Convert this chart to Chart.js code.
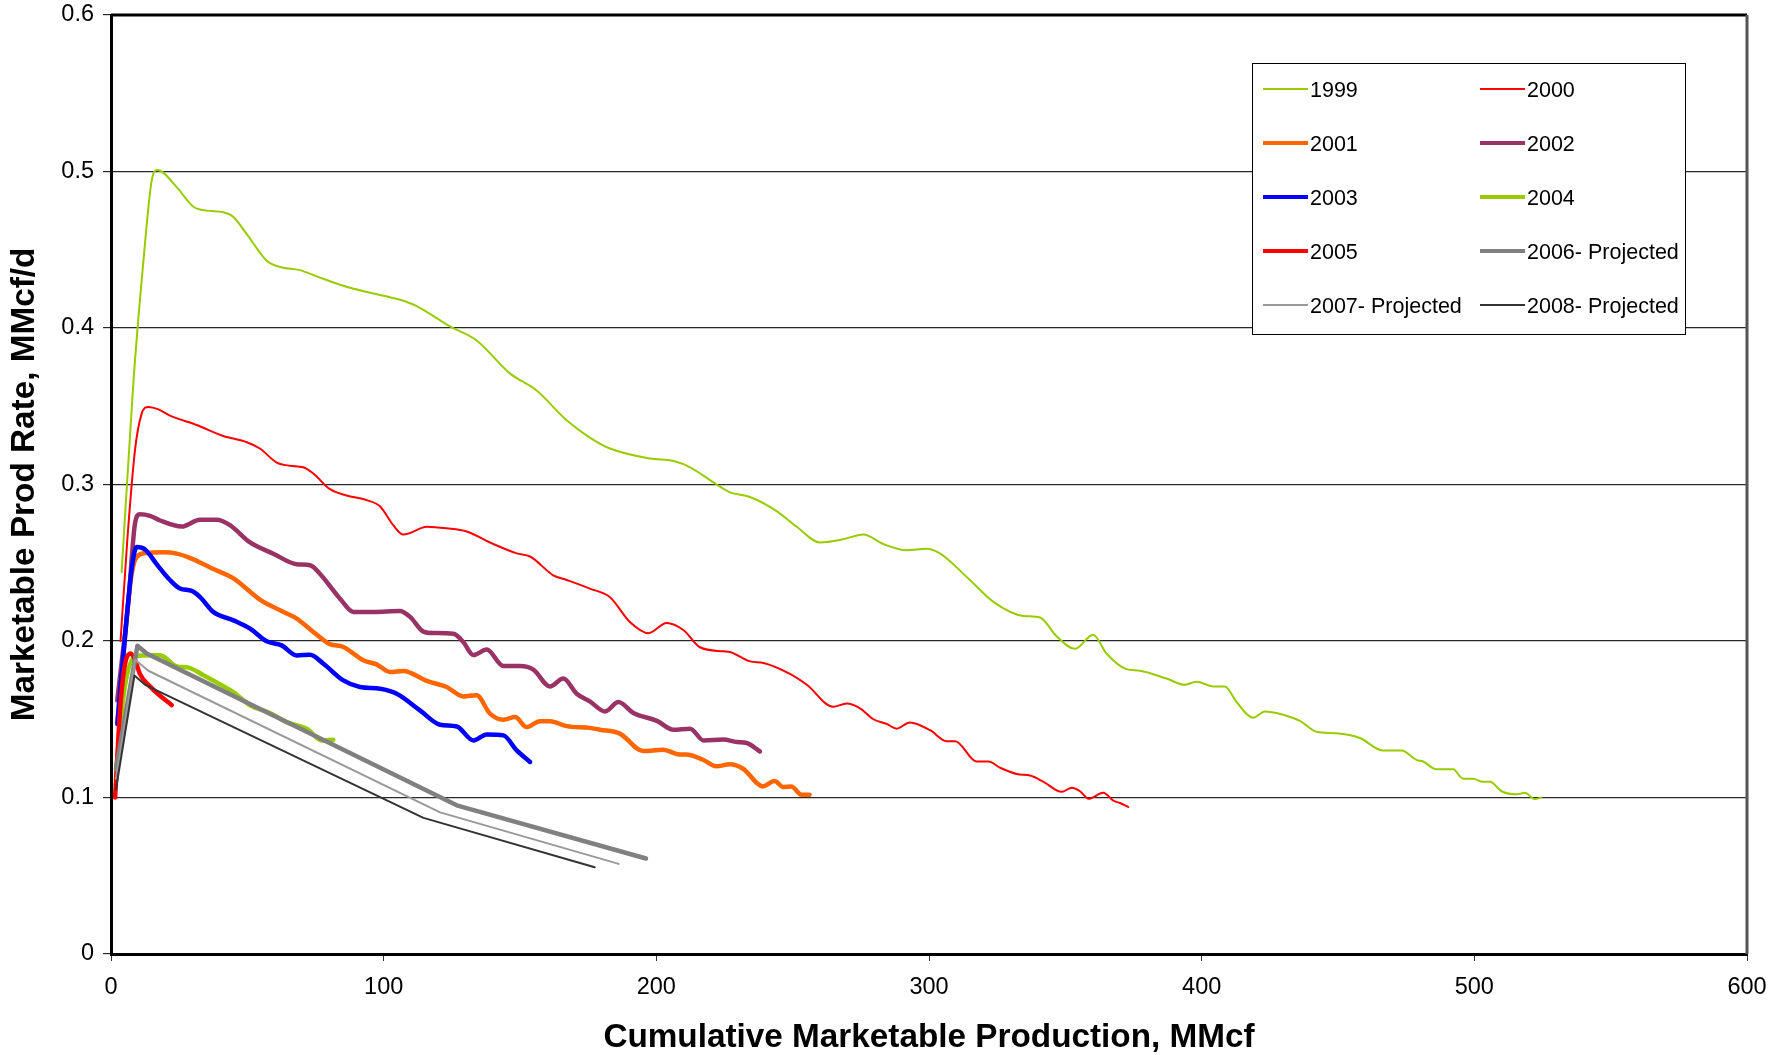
<!DOCTYPE html>
<html>
<head>
<meta charset="utf-8">
<title>Marketable Prod Rate vs Cumulative Marketable Production</title>
<script src="https://cdn.jsdelivr.net/npm/chart.js@4.4.1/dist/chart.umd.min.js"></script>
<style>
  html, body { margin: 0; padding: 0; background: #fff; }
  #wrap { width: 1789px; height: 1055px; }
</style>
</head>
<body>
<div id="wrap"><canvas id="prodChart" width="1789" height="1055"></canvas></div>
<script>
// Cumulative production (MMcf) vs marketable rate (MMcf/d).
var seriesNames = ["1999", "2000", "2001", "2002", "2003", "2004", "2005",
  "2006- Projected", "2007- Projected", "2008- Projected"];

var s1999 = [[3.9,0.244],[8.2,0.365],[11.9,0.443],[14.9,0.494],[17,0.501],[24.1,0.490],[30.2,0.4775],
  [35.1,0.475],[41.2,0.474],[44.9,0.471],[49.8,0.460],[57.1,0.443],[62,0.439],[69.3,0.437],[75.4,0.433],
  [85.2,0.427],[93.8,0.423],[106,0.418],[112.1,0.414],[124.3,0.401],[134.1,0.392],[146.3,0.371],
  [156.1,0.360],[167.1,0.341],[175.6,0.330],[183,0.323],[197.7,0.3166],[206.3,0.315],[212.4,0.311],
  [222.1,0.300],[227,0.295],[234.3,0.292],[244.1,0.283],[251.5,0.273],[260,0.263],[268.5,0.265],
  [275.9,0.268],[283.2,0.262],[291.8,0.258],[299.1,0.259],[304,0.256],[315,0.239],[323.6,0.225],
  [334.6,0.216],[340.7,0.215],[346.8,0.203],[353.5,0.195],[360.2,0.204],[365.1,0.192],[372.4,0.182],
  [377.3,0.181],[387.1,0.176],[393.8,0.172],[398.1,0.174],[404.2,0.171],[408.5,0.171],[412.8,0.161],
  [418.9,0.151],[423.2,0.155],[427.4,0.154],[436,0.149],[442.1,0.142],[449.4,0.141],[458,0.138],
  [466.5,0.130],[473.3,0.130],[478.8,0.124],[481.2,0.123],[486.1,0.118],[492.2,0.118],[495.9,0.112],
  [499.5,0.112],[503.2,0.110],[505.7,0.110],[510,0.104],[515.5,0.102],[518.5,0.103],[522.2,0.099],
  [524.6,0.100]];

var s2000 = [[3.5,0.200],[6,0.265],[8.8,0.322],[11.2,0.345],[13.7,0.3496],[17.4,0.348],[21.6,0.344],
  [31.4,0.338],[41.2,0.331],[49.8,0.327],[54.6,0.323],[60.8,0.314],[65.6,0.312],[70.5,0.311],[74.2,0.307],
  [80.3,0.297],[86.4,0.293],[93.8,0.290],[98.7,0.286],[103.5,0.274],[107.2,0.268],[109.7,0.269],
  [115.8,0.273],[123.1,0.272],[130.4,0.270],[140.2,0.262],[148.8,0.256],[153.7,0.254],[162.2,0.242],
  [167.1,0.239],[175.6,0.2335],[183,0.228],[190.4,0.212],[197.1,0.205],[203.8,0.2115],[209.9,0.207],
  [216,0.196],[224.6,0.1934],[227,0.193],[234.4,0.187],[239.3,0.186],[249,0.179],[255.2,0.172],
  [264.9,0.158],[269.8,0.160],[274.7,0.157],[279.6,0.150],[284.5,0.147],[288.1,0.144],[293,0.148],
  [300.4,0.143],[306.5,0.136],[309.6,0.136],[317.5,0.123],[321.8,0.123],[326.1,0.119],[332.2,0.115],
  [337.1,0.114],[342,0.110],[348.7,0.1036],[352.4,0.1063],[355.4,0.104],[358.5,0.0992],[363.9,0.103],
  [367.6,0.098],[370,0.0965],[373.1,0.0939]];

var s2001 = [[2.5,0.150],[5,0.200],[7.5,0.242],[9.4,0.2537],[13.1,0.2563],[19.2,0.2567],[24.1,0.2558],
  [30.2,0.2522],[36.3,0.247],[44.9,0.240],[54.6,0.2265],[62,0.2196],[68.1,0.2143],[74.2,0.2058],
  [80.3,0.198],[85.2,0.1962],[92.5,0.1877],[97.4,0.1851],[102.3,0.1802],[107.2,0.1809],[115.8,0.1745],
  [123.1,0.1706],[129.2,0.1646],[134.1,0.1653],[139,0.1536],[143.9,0.1497],[148.2,0.1514],[152.4,0.145],
  [157.3,0.1488],[161,0.1488],[167.1,0.1456],[175.6,0.1445],[179.3,0.1433],[186.6,0.1408],[195.2,0.1297],
  [202.5,0.1305],[208.6,0.1275],[211,0.1275],[217.1,0.1241],[222,0.1199],[226.9,0.1212],[231.8,0.1184],
  [239.1,0.1071],[243.4,0.1105],[246.5,0.1067],[249.5,0.1071],[253.2,0.1018],[256.2,0.1018]];

var s2002 = [[2.3,0.162],[6.4,0.226],[8.8,0.275],[10.6,0.281],[14.3,0.280],[18,0.277],[25.9,0.2731],
  [32.6,0.2774],[38.8,0.2774],[43.6,0.274],[51,0.263],[59.5,0.2558],[68.1,0.249],[73,0.2484],[76.6,0.243],
  [84,0.227],[88.9,0.2186],[96.2,0.2186],[106,0.2192],[109.7,0.2154],[114.6,0.206],[118.2,0.2051],
  [125.6,0.2047],[129.2,0.1994],[132.9,0.191],[137.8,0.1945],[143.9,0.184],[150,0.184],[154.9,0.1817],
  [161,0.171],[165.9,0.176],[170.8,0.1663],[175.6,0.1614],[181.2,0.155],[186.1,0.161],[191.6,0.154],
  [200.2,0.149],[206.3,0.1433],[212.4,0.144],[217.3,0.1365],[224.6,0.137],[229.5,0.1354],[233.1,0.1348],
  [238,0.1294]];

var s2003 = [[2.3,0.147],[5,0.200],[7.5,0.245],[9.4,0.260],[12.5,0.2585],[16.8,0.249],[21.6,0.239],
  [25.3,0.2335],[29.6,0.232],[32.6,0.2282],[37.5,0.2186],[44.9,0.2132],[51,0.2079],[57.1,0.1998],
  [62.6,0.1972],[68.1,0.1908],[73,0.1912],[77.9,0.1855],[85.2,0.1748],[91.3,0.1706],[98.7,0.1695],
  [104.8,0.1663],[113.3,0.1557],[120.7,0.1465],[126.8,0.1454],[132.9,0.1365],[137.8,0.1403],
  [143.9,0.1397],[148.8,0.1301],[153.7,0.1227]];

var s2004 = [[2,0.120],[5,0.170],[8.8,0.190],[14.3,0.1909],[18,0.1909],[24.1,0.1838],[28.4,0.183],
  [33.9,0.1781],[40,0.1723],[44.9,0.1674],[51,0.1589],[58.3,0.154],[64.4,0.1482],[71.8,0.1439],
  [77.3,0.1365],[81.5,0.1369]];

var s2005 = [[1.5,0.100],[3.5,0.160],[5.5,0.188],[7.3,0.192],[9,0.187],[10.6,0.179],[14.3,0.171],
  [18,0.165],[22.3,0.159]];

var s2006 = [[1.8,0.118],[9.7,0.197],[13.1,0.192],[126.8,0.095],[196.2,0.061]];
var s2007 = [[1.8,0.112],[8.8,0.188],[13.7,0.181],[120.7,0.0905],[186.2,0.0576]];
var s2008 = [[1.8,0.105],[8.6,0.178],[12.5,0.172],[114.6,0.087],[177.4,0.0554]];

var allSeries = [s1999, s2000, s2001, s2002, s2003, s2004, s2005, s2006, s2007, s2008];

// styling (kept apart from the values)
var lineColors = ["#99CC00", "#FF0000", "#FF6600", "#993366", "#0000FF", "#99CC00", "#FF0000",
  "#808080", "#999999", "#333333"];
var lineWidths = [2, 2, 4.5, 4.5, 4.5, 4.5, 4.5, 4.5, 2, 2];
var projected = [false, false, false, false, false, false, false, true, true, true];

var FONT = "'Liberation Sans', Arial, sans-serif";

// legend drawn as a 2-column boxed grid like the original
var boxLegend = {
  id: "boxLegend",
  afterDraw: function (chart) {
    var ctx = chart.ctx;
    var box = { l: 1252.5, t: 63.5, r: 1685.5, b: 334.5 };
    ctx.save();
    ctx.fillStyle = "#fff";
    ctx.fillRect(box.l, box.t, box.r - box.l, box.b - box.t);
    ctx.strokeStyle = "#000";
    ctx.lineWidth = 1;
    ctx.strokeRect(box.l, box.t, box.r - box.l, box.b - box.t);
    ctx.font = "21.5px " + FONT;
    ctx.textBaseline = "middle";
    ctx.fillStyle = "#000";
    var colX = [1263, 1480];
    var rowY0 = 89, rowStep = 54;
    chart.data.datasets.forEach(function (ds, i) {
      var col = i % 2, row = Math.floor(i / 2);
      var x = colX[col], y = rowY0 + row * rowStep;
      ctx.beginPath();
      ctx.strokeStyle = ds.borderColor;
      ctx.lineWidth = ds.borderWidth > 3 ? 4 : 2;
      ctx.moveTo(x, y);
      ctx.lineTo(x + 45, y);
      ctx.stroke();
      ctx.fillText(ds.label, x + 47, y + 2);
    });
    ctx.restore();
  }
};

// top and right frame of the plot area
var frame = {
  id: "frame",
  afterDatasetsDraw: function (chart) {
    var a = chart.chartArea, ctx = chart.ctx;
    ctx.save();
    ctx.lineWidth = 3;
    ctx.strokeStyle = "#000";
    ctx.beginPath();
    ctx.moveTo(a.left, a.top);
    ctx.lineTo(a.right, a.top);
    ctx.stroke();
    ctx.strokeStyle = "#555";
    ctx.beginPath();
    ctx.moveTo(a.right, a.top);
    ctx.lineTo(a.right, a.bottom);
    ctx.stroke();
    ctx.restore();
  }
};

var datasets = allSeries.map(function (pts, i) {
  return {
    label: seriesNames[i],
    data: pts.map(function (p) { return { x: p[0], y: p[1] }; }),
    borderColor: lineColors[i],
    backgroundColor: lineColors[i],
    borderWidth: lineWidths[i],
    pointRadius: 0,
    fill: false,
    tension: projected[i] ? 0 : 0.4,
    cubicInterpolationMode: projected[i] ? "default" : "monotone",
    borderCapStyle: "round",
    borderJoinStyle: "round",
    order: -i
  };
});

new Chart(document.getElementById("prodChart"), {
  type: "line",
  data: { datasets: datasets },
  plugins: [frame, boxLegend],
  options: {
    responsive: false,
    animation: false,
    layout: { padding: { top: 15, right: 42, left: 0, bottom: 0 } },
    plugins: { legend: { display: false }, tooltip: { enabled: false } },
    scales: {
      x: {
        type: "linear",
        min: 0,
        max: 600,
        afterFit: function (s) { s.height = 101; s.paddingLeft = 0; s.paddingRight = 0; },
        ticks: { stepSize: 100, color: "#000", padding: 12, font: { family: FONT, size: 23.5 } },
        grid: { drawOnChartArea: false, drawTicks: true, tickLength: 7, color: "#333" },
        border: { display: true, color: "#000", width: 3 },
        title: {
          display: true,
          text: "Cumulative Marketable Production, MMcf",
          color: "#000",
          padding: { top: 0, bottom: 0 },
          font: { family: FONT, size: 33.3, weight: "bold", lineHeight: 1.05 }
        }
      },
      y: {
        type: "linear",
        min: 0,
        max: 0.6,
        afterFit: function (s) { s.width = 111; s.paddingTop = 0; s.paddingBottom = 0; },
        ticks: {
          stepSize: 0.1,
          color: "#000",
          padding: 9,
          font: { family: FONT, size: 23.5 },
          callback: function (v) { return String(Number(v.toFixed(1))); }
        },
        grid: { color: "#2a2a2a", lineWidth: 1.2, tickLength: 8 },
        border: { display: true, color: "#000", width: 3 },
        title: {
          display: true,
          text: "Marketable Prod Rate, MMcf/d",
          color: "#000",
          padding: { top: 5, bottom: 0 },
          font: { family: FONT, size: 33.3, weight: "bold", lineHeight: 1.2 }
        }
      }
    }
  }
});
</script>
</body>
</html>
